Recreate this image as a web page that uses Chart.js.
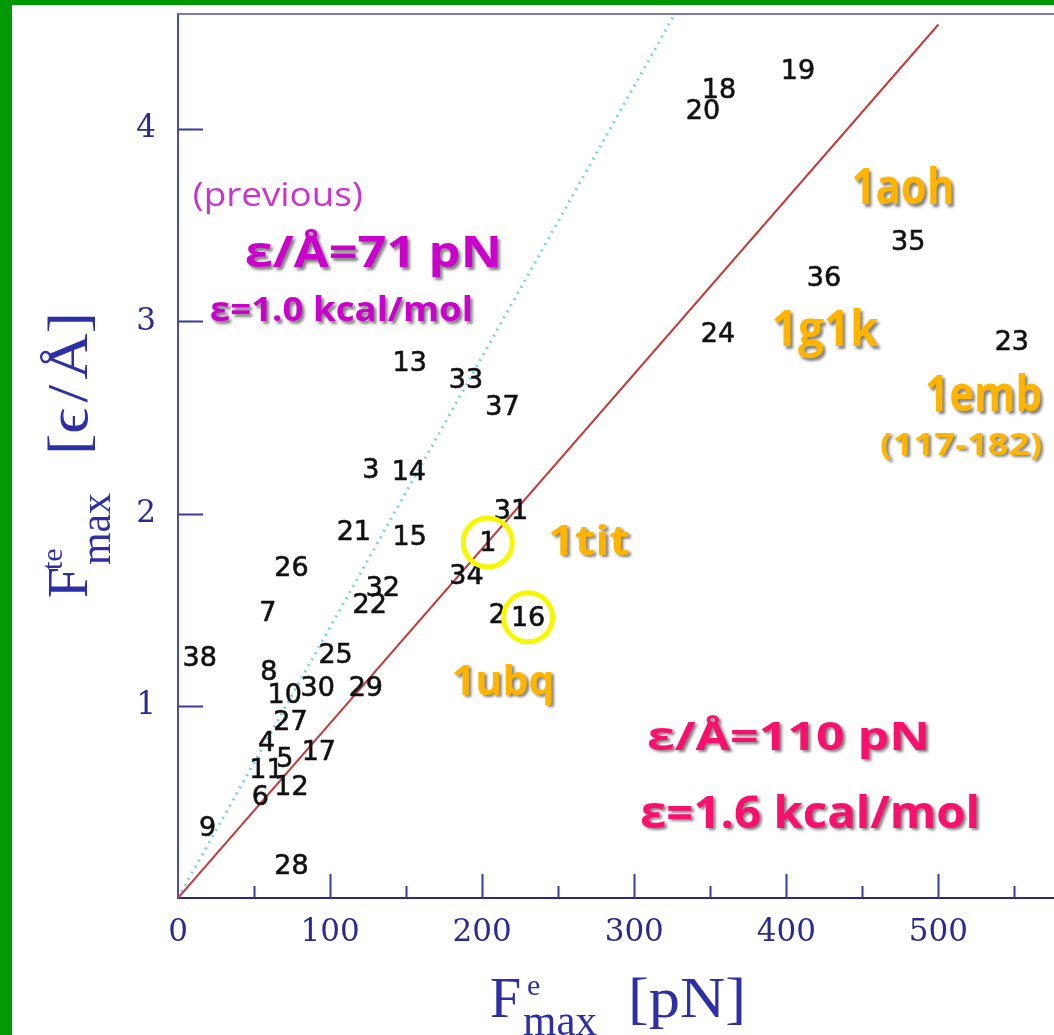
<!DOCTYPE html>
<html>
<head>
<meta charset="utf-8">
<script src="https://cdn.jsdelivr.net/npm/chart.js@4/dist/chart.umd.min.js"></script>
<style>
  html, body { margin: 0; padding: 0; width: 1054px; height: 1035px; overflow: hidden; background: #009900; }
  #panel { position: absolute; left: 12px; top: 5px; width: 1042px; height: 1030px; background: #ffffff; }
  canvas { display: block; }
</style>
</head>
<body>
<div id="panel"><canvas id="chart" width="1042" height="1030"></canvas></div>
<script>
// Protein index numbers used as plot markers
const proteinIds = ['1','2','3','4','5','6','7','8','9','10','11','12','13','14','15','16','17','18','19',
  '20','21','22','23','24','25','26','27','28','29','30','31','32','33','34','35','36','37','38'];
// Experimental peak force F^e_max [pN]
const forceExp = [203.7, 210.0, 126.8, 58.2, 70.2, 54.2, 59.0, 59.7, 19.5, 70.2, 58.2, 74.6, 152.4, 151.8,
  152.4, 230.2, 92.6, 355.7, 407.7, 345.2, 115.6, 126.1, 548.3, 355.1, 103.6, 74.6, 73.9, 74.6, 123.5,
  91.9, 218.9, 134.7, 189.3, 189.7, 480.1, 424.8, 213.4, 14.3];
// Theoretical peak force F^te_max [eps/A]
const forceTheory = [1.84, 1.465, 2.22, 0.80, 0.72, 0.52, 1.48, 1.17, 0.36, 1.05, 0.66, 0.57, 2.78, 2.21,
  1.875, 1.45, 0.755, 4.20, 4.30, 4.09, 1.90, 1.52, 2.89, 2.93, 1.26, 1.71, 0.91, 0.16, 1.09, 1.09, 2.01,
  1.61, 2.69, 1.67, 3.41, 3.22, 2.55, 1.245];
// Highlighted proteins (1tit and 1ubq)
const circledIds = ['1', '16'];
// Energy-scale conversions eps/A in pN
const epsNew = 110;
const epsOld = 71;
const fitEnd = 500;
// Axis ticks
const xTicks = [0, 100, 200, 300, 400, 500];
const xMinorTicks = [50, 150, 250, 350, 450, 550];
const yTicks = [1, 2, 3, 4];
const xMax = 576;
const yMax = 4.6;

// Text annotations placed in data coordinates
const notes = [
  { text: '(previous)',      x: 65.6,  y: 3.599, size: 33, weight: 400, color: '#cc33cc', width: 170, shadow: false },
  { text: 'ε/Å=71 pN',       x: 128.4, y: 3.281, size: 43, weight: 700, color: '#cc00cc', width: 257, shadow: true },
  { text: 'ε=1.0 kcal/mol',  x: 107.4, y: 3.0,   size: 34, weight: 700, color: '#cc00cc', width: 263, shadow: true },
  { text: '1aoh',            x: 476.7, y: 3.609, size: 50, weight: 700, color: '#ffb400', width: 103, shadow: true },
  { text: '1g1k',            x: 425.5, y: 2.871, size: 50, weight: 700, color: '#ffb400', width: 107, shadow: true },
  { text: '1emb',            x: 529.7, y: 2.533, size: 50, weight: 700, color: '#ffb400', width: 117, shadow: true },
  { text: '(117-182)',       x: 514.9, y: 2.307, size: 31, weight: 700, color: '#ffb400', width: 162, shadow: true },
  { text: '1tit',            x: 270.2, y: 1.786, size: 42, weight: 700, color: '#ffb400', width: 82,  shadow: true },
  { text: '1ubq',            x: 213.8, y: 1.057, size: 42, weight: 700, color: '#ffb400', width: 103, shadow: true },
  { text: 'ε/Å=110 pN',      x: 401.4, y: 0.771, size: 39, weight: 700, color: '#f8106c', width: 283, shadow: true },
  { text: 'ε=1.6 kcal/mol',  x: 415.6, y: 0.365, size: 44, weight: 700, color: '#f8106c', width: 340, shadow: true }
];

const axisBlue = '#2b2b8f';
const titleBlue = '#2e2ea6';

// Frame line on top and inward tick marks
const framePlugin = {
  id: 'frame',
  afterDatasetsDraw(chart) {
    const { ctx, chartArea: a, scales: { x, y } } = chart;
    ctx.save();
    ctx.lineWidth = 2;
    ctx.strokeStyle = '#7a7ab4';
    ctx.beginPath();
    ctx.moveTo(a.left, a.top);
    ctx.lineTo(a.right, a.top);
    ctx.stroke();
    ctx.strokeStyle = '#3a3a98';
    ctx.beginPath();
    xTicks.forEach(v => { if (v === 0) return; const px = Math.round(x.getPixelForValue(v)) + 0.5; ctx.moveTo(px, a.bottom); ctx.lineTo(px, a.bottom - 24); });
    xMinorTicks.forEach(v => { const px = Math.round(x.getPixelForValue(v)) + 0.5; ctx.moveTo(px, a.bottom); ctx.lineTo(px, a.bottom - 12); });
    yTicks.forEach(v => { const py = Math.round(y.getPixelForValue(v)) + 0.5; ctx.moveTo(a.left, py); ctx.lineTo(a.left + 25, py); });
    ctx.stroke();
    ctx.restore();
  }
};

// Protein numbers drawn at each data point, then highlight circles
const labelPlugin = {
  id: 'pointLabels',
  afterDatasetsDraw(chart) {
    const { ctx } = chart;
    const meta = chart.getDatasetMeta(0);
    ctx.save();
    ctx.font = '27px "DejaVu Sans"';
    ctx.fillStyle = '#111111';
    ctx.strokeStyle = '#111111';
    ctx.lineWidth = 0.6;
    ctx.textAlign = 'center';
    ctx.textBaseline = 'middle';
    meta.data.forEach((pt, i) => {
      ctx.fillText(proteinIds[i], pt.x, pt.y);
      ctx.strokeText(proteinIds[i], pt.x, pt.y);
    });
    ctx.strokeStyle = '#f7f700';
    ctx.lineWidth = 5;
    circledIds.forEach(id => {
      const pt = meta.data[proteinIds.indexOf(id)];
      ctx.beginPath();
      ctx.arc(pt.x, pt.y - 2, 24.5, 0, Math.PI * 2);
      ctx.stroke();
    });
    ctx.restore();
  }
};

// Free text annotations
const notesPlugin = {
  id: 'notes',
  afterDatasetsDraw(chart) {
    const { ctx, scales: { x, y } } = chart;
    notes.forEach(n => {
      ctx.save();
      ctx.font = `${n.weight} ${n.size}px "Open Sans"`;
      const w = ctx.measureText(n.text).width;
      ctx.translate(x.getPixelForValue(n.x), y.getPixelForValue(n.y));
      ctx.scale(n.width / w, 1);
      ctx.textAlign = 'center';
      ctx.textBaseline = 'alphabetic';
      if (n.shadow) {
        ctx.shadowColor = 'rgba(0,0,0,0.5)';
        ctx.shadowOffsetX = 2.5;
        ctx.shadowOffsetY = 2.5;
        ctx.shadowBlur = 3;
      }
      ctx.fillStyle = n.color;
      ctx.fillText(n.text, 0, 0);
      ctx.restore();
    });
  }
};

// Axis titles with sub/superscripts
function drawPieces(ctx, pieces) {
  pieces.forEach(p => {
    ctx.save();
    ctx.font = `${p.size}px "Liberation Serif", "DejaVu Serif", serif`;
    ctx.translate(p.dx, p.dy);
    if (p.w) ctx.scale(p.w / ctx.measureText(p.t).width, 1);
    ctx.fillText(p.t, 0, 0);
    ctx.restore();
  });
}
const titlePlugin = {
  id: 'axisTitles',
  afterDraw(chart) {
    const { ctx, chartArea: a } = chart;
    ctx.save();
    ctx.fillStyle = titleBlue;
    ctx.textAlign = 'left';
    ctx.textBaseline = 'alphabetic';
    // x title
    ctx.save();
    ctx.translate(a.left + 312, a.bottom + 119);
    drawPieces(ctx, [
      { t: 'F', dx: 0, dy: 0, size: 56 },
      { t: 'e', dx: 37, dy: -22, size: 30 },
      { t: 'max', dx: 33, dy: 18, size: 44, w: 74 },
      { t: '[pN]', dx: 138, dy: 0, size: 58, w: 118 }
    ]);
    ctx.restore();
    // y title
    ctx.save();
    ctx.translate(a.left - 91, a.bottom - 300);
    ctx.rotate(-Math.PI / 2);
    drawPieces(ctx, [
      { t: 'F', dx: 0, dy: 0, size: 56 },
      { t: 'te', dx: 28, dy: -25, size: 30 },
      { t: 'max', dx: 33, dy: 23, size: 44, w: 72 },
      { t: '[ϵ\u200A/\u200AÅ]', dx: 143, dy: 0, size: 58, w: 143 }
    ]);
    ctx.restore();
    ctx.restore();
  }
};

function noEdgePadding(s) {
  s.paddingTop = 0;
  s.paddingBottom = 0;
  s.paddingLeft = 0;
  s.paddingRight = 0;
}

new Chart(document.getElementById('chart'), {
  type: 'scatter',
  data: {
    datasets: [
      {
        label: 'proteins',
        data: proteinIds.map((id, i) => ({ x: forceExp[i], y: forceTheory[i] })),
        pointRadius: 0,
        pointHoverRadius: 0
      },
      {
        label: 'ε/Å=110 pN',
        data: [{ x: 0, y: 0 }, { x: fitEnd, y: fitEnd / epsNew }],
        showLine: true,
        borderColor: '#c43a3a',
        borderWidth: 2,
        pointRadius: 0
      },
      {
        label: 'ε/Å=71 pN',
        data: [{ x: 0, y: 0 }, { x: yMax * epsOld, y: yMax }],
        showLine: true,
        borderColor: '#7fd0e0',
        borderWidth: 3,
        borderDash: [2, 5],
        pointRadius: 0
      }
    ]
  },
  options: {
    responsive: false,
    animation: false,
    devicePixelRatio: 1,
    layout: { padding: { top: 9, right: 0, bottom: 0, left: 0 } },
    plugins: { legend: { display: false }, tooltip: { enabled: false } },
    scales: {
      x: {
        type: 'linear', min: 0, max: xMax,
        afterFit(s) { s.height = 137; noEdgePadding(s); },
        afterBuildTicks(s) { s.ticks = xTicks.map(v => ({ value: v })); },
        grid: { display: false, drawTicks: false },
        border: { display: true, color: '#2a2a7e', width: 2 },
        ticks: { font: { family: 'DejaVu Serif', size: 31 }, color: axisBlue, padding: 16, maxRotation: 0, autoSkip: false }
      },
      y: {
        type: 'linear', min: 0, max: yMax,
        afterFit(s) { s.width = 166; noEdgePadding(s); },
        afterBuildTicks(s) { s.ticks = yTicks.map(v => ({ value: v })); },
        grid: { display: false, drawTicks: false },
        border: { display: true, color: '#4b4bbd', width: 2 },
        ticks: { font: { family: 'DejaVu Serif', size: 31 }, color: axisBlue, padding: 22, autoSkip: false }
      }
    }
  },
  plugins: [framePlugin, labelPlugin, notesPlugin, titlePlugin]
});
</script>
</body>
</html>
